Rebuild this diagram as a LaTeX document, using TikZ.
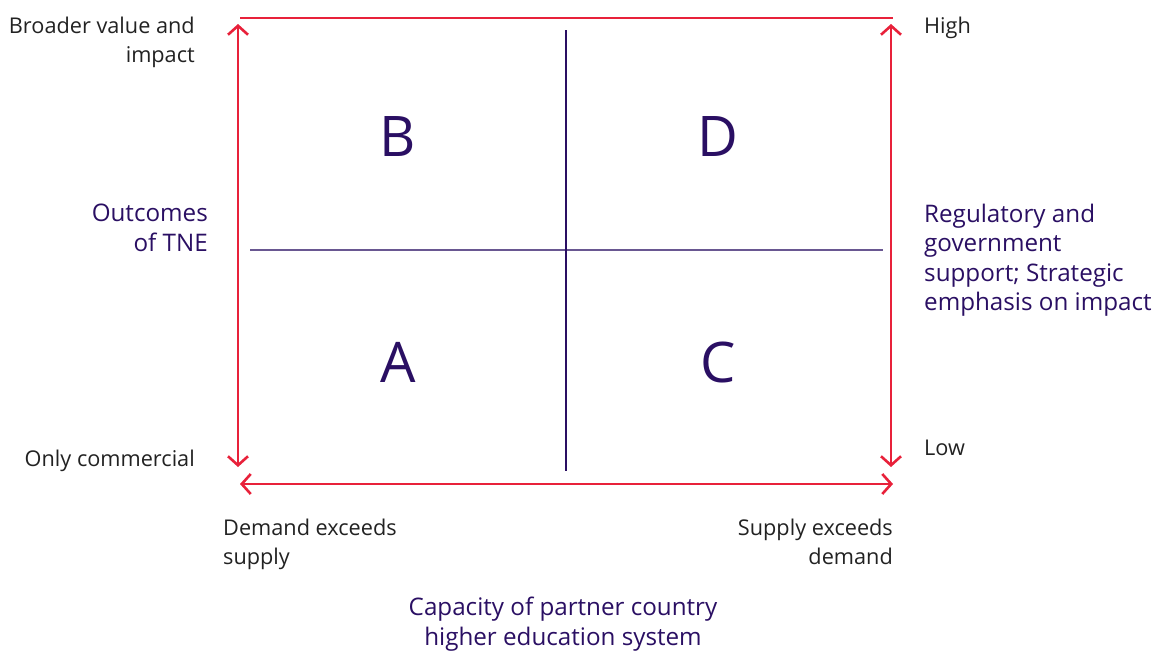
\documentclass[tikz,border=0pt]{standalone}
\usepackage{fontspec}
\setmainfont{Open Sans}
\usetikzlibrary{arrows.meta}
\definecolor{axisred}{HTML}{E8213A}
\definecolor{deeppurple}{HTML}{2A0F63}
\definecolor{bodygray}{HTML}{222222}
\tikzset{
  axis/.style={draw=axisred, line width=2.6pt},
  twoway/.style={axis, {Straight Barb[length=9pt,width=20pt,line width=2.6pt]}-{Straight Barb[length=9pt,width=20pt,line width=2.6pt]}},
  divider/.style={draw=deeppurple, line width=1.2pt},
  quad/.style={text=deeppurple, font=\fontsize{56}{60}\selectfont, inner sep=0pt},
  lbl/.style={text=bodygray, font=\fontsize{21.7}{29.3}\selectfont, inner sep=0pt},
  plbl/.style={text=deeppurple, font=\fontsize{24.2}{29.3}\selectfont, inner sep=0pt},
}
\begin{document}
\begin{tikzpicture}[x=1pt,y=-1pt]
\useasboundingbox (0,0) rectangle (1161,651);
% frame and axes
\coordinate (tl) at (240,18);
\coordinate (tr) at (893,18);
\coordinate (lt) at (238,24);
\coordinate (lb) at (238,467);
\coordinate (rt) at (891,24);
\coordinate (rb) at (891,467);
\coordinate (bl) at (240,484);
\coordinate (br) at (893,484);
\draw[axis] (tl) -- (tr);
\draw[twoway] (lt) -- (lb);
\draw[twoway] (rt) -- (rb);
\draw[twoway] (bl) -- (br);
% quadrant dividers
\coordinate (vt) at (566,30);
\coordinate (vb) at (566,471);
\coordinate (hl) at (250,250);
\coordinate (hr) at (883,250);
\draw[divider] (vt) -- (vb);
\draw[divider, draw opacity=0.7] (hl) -- (hr);
% quadrant letters
\node[quad] (B) at (398,137) {B};
\node[quad] (D) at (718,137) {D};
\node[quad] (A) at (398,362) {A};
\node[quad] (C) at (718,362) {C};
% left axis labels
\node[lbl, anchor=north east, align=right] (top) at (195,17) {Broader value and\\impact};
\node[lbl, anchor=north east, align=right] (bottom) at (195,450) {Only commercial};
\node[plbl, anchor=north east, align=right] (outcomes) at (208,204) {Outcomes\\of TNE};
% right axis labels
\node[lbl, anchor=north west, align=left] (high) at (924,17) {High};
\node[lbl, anchor=north west, align=left] (low) at (924,440) {Low};
\node[plbl, anchor=north west, align=left] (support) at (924,204) {Regulatory and\\government\\support; Strategic\\emphasis on impact};
% bottom axis labels
\node[lbl, anchor=north west, align=left] (demand) at (223,519) {Demand exceeds\\supply};
\node[lbl, anchor=north east, align=right] (supply) at (893,519) {Supply exceeds\\demand};
\node[plbl, anchor=north, align=center] (capacity) at (563,597) {Capacity of partner country\\higher education system};
\end{tikzpicture}
\end{document}
